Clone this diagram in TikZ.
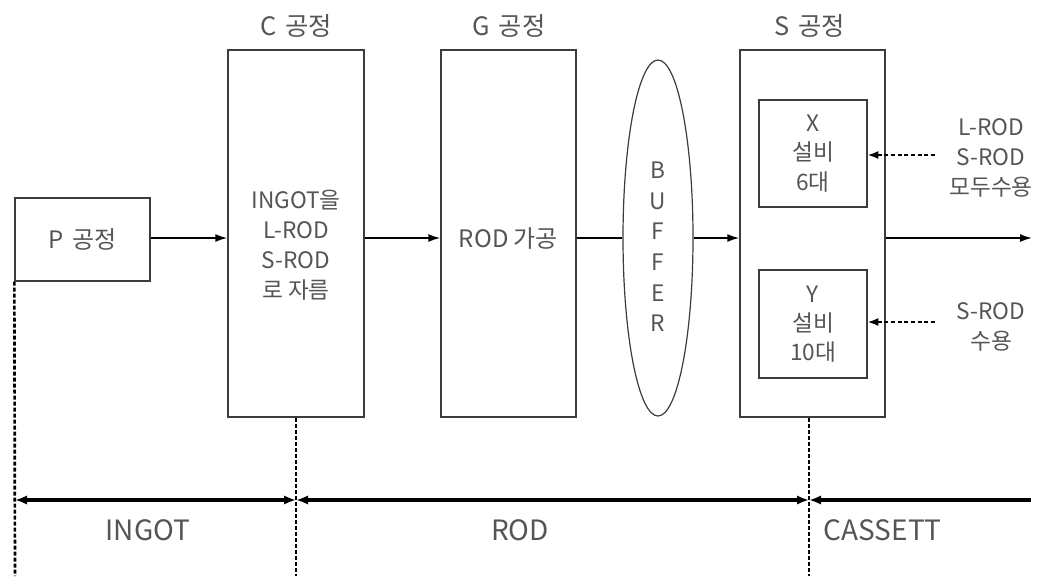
\documentclass[tikz,border=0pt]{standalone}
\usepackage{fontspec}
\setmainfont{Noto Sans CJK KR}
\usetikzlibrary{arrows.meta,shapes.geometric}
\definecolor{txt}{RGB}{85,85,85}
\definecolor{ln}{RGB}{60,60,60}
\begin{document}
\begin{tikzpicture}[x=0.75pt,y=-0.75pt,
  every node/.style={text=txt,font=\fontsize{18}{22}\selectfont},
  procbox/.style={draw=ln,line width=1pt,fill=white,inner sep=0pt,align=center},
  title/.style={font=\fontsize{19}{22}\selectfont},
  biglab/.style={font=\fontsize{21}{24}\selectfont},
  flow/.style={line width=1.3pt,-{Latex[length=9pt,width=6pt]}},
  feed/.style={line width=1.3pt,dash pattern=on 3pt off 2pt,-{Latex[length=8pt,width=6pt]}},
  axis/.style={line width=2.4pt},
  guide/.style={line width=2pt,dash pattern=on 3pt off 1.5pt,draw=black}
]
\useasboundingbox (0,0) rectangle (1044,576);

% process boxes
\node[procbox,minimum width=101.25pt,minimum height=62.25pt] (P) at (82.5,239.5) {P\hspace{0.35em}공정};
\node[procbox,minimum width=102pt,minimum height=275.25pt] (C) at (296,233.5) {};
\node[procbox,minimum width=101.25pt,minimum height=275.25pt] (G) at (508.5,233.5) {};
\node[procbox,minimum width=108.75pt,minimum height=275.25pt] (S) at (812.5,233.5) {};

\node[align=center,font=\fontsize{17}{22.5}\selectfont] (Ct) at (296,245) {INGOT을\\L-ROD\\S-ROD\\로 자름};
\node (Gt) at (508.5,238) {ROD 가공};

% titles
\node[title] (Ctitle) at (296,26) {C\hspace{0.35em}공정};
\node[title] (Gtitle) at (509,26) {G\hspace{0.35em}공정};
\node[title] (Stitle) at (810,26) {S\hspace{0.35em}공정};

% buffer
\node[draw=ln,line width=0.9pt,fill=white,ellipse,inner sep=0pt,minimum width=52.5pt,minimum height=267pt] (B) at (658,238) {};
\node[align=center,font=\fontsize{17}{23}\selectfont] (Bt) at (658,247) {B\\U\\F\\F\\E\\R};

% equipment boxes
\node[procbox,minimum width=81pt,minimum height=80.25pt,align=center,font=\fontsize{17}{22}\selectfont] (X) at (813,153.5) {X\\설비\\6대};
\node[procbox,minimum width=81pt,minimum height=81pt,align=center,font=\fontsize{17}{22}\selectfont] (Y) at (813,324) {Y\\설비\\10대};

% right labels
\node[align=center,font=\fontsize{17}{22.5}\selectfont] (XL) at (991,158) {L-ROD\\S-ROD\\모두수용};
\node[align=center,font=\fontsize{17}{22.5}\selectfont] (YL) at (991,327) {S-ROD\\수용};
\coordinate (XLs) at (935,155);
\coordinate (YLs) at (935,322);
\coordinate (out) at (1032,238);

% flow arrows
\draw[flow] (P.east |- 0,238) -- (C.west |- 0,238);
\draw[flow] (C.east |- 0,238) -- (G.west |- 0,238);
\draw[line width=1.3pt] (G.east |- 0,238) -- (B.west);
\draw[flow] (B.east) -- (S.west |- 0,238);
\draw[flow] (S.east |- 0,238) -- (out);
\draw[feed] (XLs) -- (X.east |- XLs);
\draw[feed] (YLs) -- (Y.east |- YLs);

% time axis
\coordinate (a) at (15,500);
\coordinate (b) at (296,500);
\coordinate (c) at (809,500);
\coordinate (d) at (1031,500);
\draw[guide] (P.south west) -- (15,576);
\draw[guide] (C.south) -- (296,576);
\draw[guide] (c |- S.south) -- (809,576);
\draw[axis,{Latex[length=9pt,width=7pt]}-{Latex[length=9pt,width=7pt]}] (a) -- (b);
\draw[axis,{Latex[length=9pt,width=7pt]}-{Latex[length=9pt,width=7pt]}] (b) -- (c);
\draw[axis,{Latex[length=9pt,width=7pt]}-] (c) -- (d);

\node[biglab] (L1) at (148,530) {INGOT};
\node[biglab] (L2) at (520,530) {ROD};
\node[biglab,anchor=west] (L3) at (819,530) {CASSETT};
\end{tikzpicture}
\end{document}
